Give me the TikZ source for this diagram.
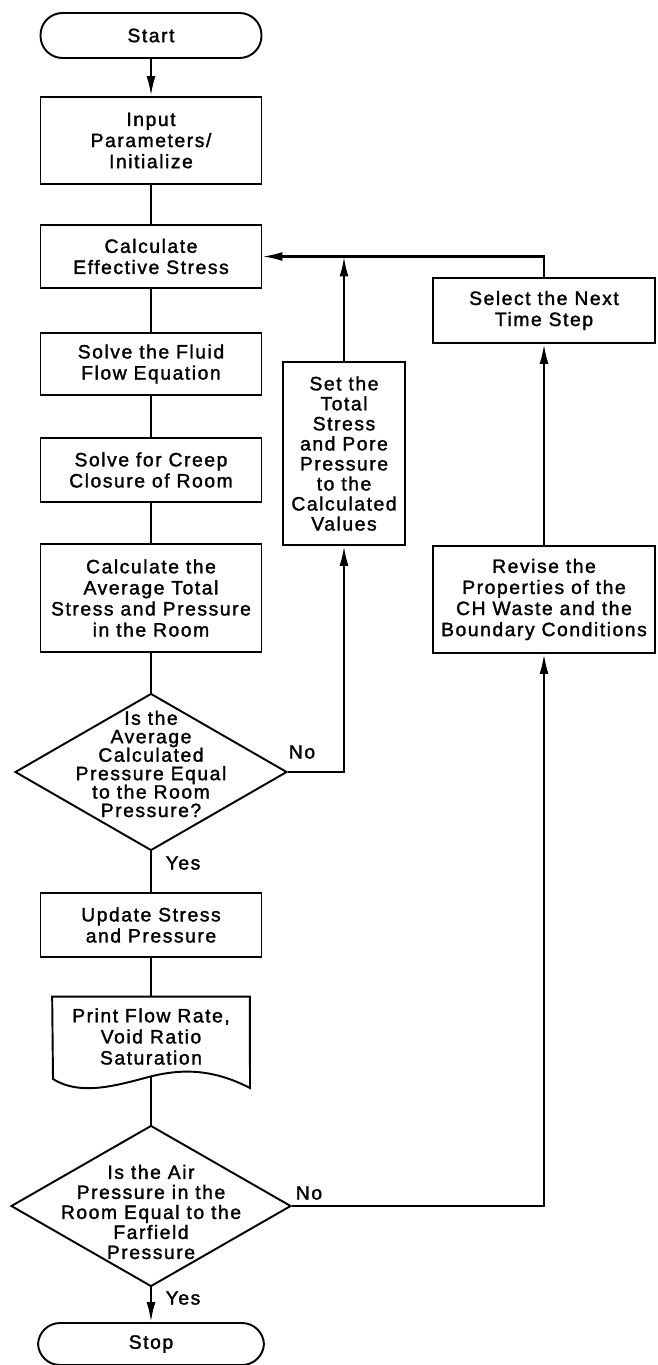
\documentclass[tikz,border=0pt]{standalone}
\usepackage{fontspec}
\setmainfont{Liberation Sans}[LetterSpace=8,FakeBold=1.6]
\usetikzlibrary{shapes.geometric,arrows.meta}

\begin{document}
\begin{tikzpicture}[x=0.02cm, y=-0.02cm,
        font=\fontsize{11}{12}\selectfont,
        every node/.style={align=center, inner sep=0pt},
        box/.style={draw, line width=1.1pt, minimum width=4.42cm},
        termbox/.style={box, rounded corners=0.44cm},
        decide/.style={draw, line width=1.1pt, shape=diamond},
        >={Latex[length=0.4cm,width=0.18cm]},
        flow/.style={line width=1.3pt}]
        \useasboundingbox (0, 0) rectangle (658, 1365);

        % Main column of boxes
        \node[termbox, minimum height=0.9cm] (start) at (151, 35.5) {Start};
        \node[box, minimum height=1.74cm] (input) at (151, 140.5) {Input\\Parameters/\\Initialize};
        \node[box, minimum height=1.26cm] (calceff) at (151, 256.5) {Calculate\\Effective Stress};
        \node[box, minimum height=1.24cm] (fluid) at (151, 364) {Solve the Fluid\\Flow Equation};
        \node[box, minimum height=1.28cm] (creep) at (151, 470) {Solve for Creep\\Closure of Room};
        \node[box, minimum height=2.16cm] (avg) at (151, 598) {Calculate the\\Average Total\\Stress and Pressure\\in the Room};

        % First test
        \node[decide, minimum width=5.44cm, minimum height=3.14cm,
            label={[yshift=0.16cm, font=\fontsize{11}{10.5}\selectfont]center:Is the\\Average\\Calculated\\Pressure Equal\\to the Room\\Pressure?}]
            (test1) at (151, 772) {};

        \node[box, minimum height=1.28cm] (update) at (151, 925) {Update Stress\\and Pressure};

        % Printout, drawn as a document shape
        \node[minimum width=3.94cm, minimum height=1.58cm] (print) at (151, 1036.5) {Print Flow Rate,\\Void Ratio\\Saturation};
        \draw[line width=1.1pt] (print.north west) -- (print.north east) -- (250, 1088)
            .. controls (215, 1070) and (185, 1068) .. (print.south)
            .. controls (115, 1086) and (80, 1096) .. (53, 1079) -- cycle;

        % Second test
        \node[decide, minimum width=5.6cm, minimum height=3.22cm,
            label={[yshift=-0.12cm, font=\fontsize{11}{11.4}\selectfont]center:Is the Air\\Pressure in the\\Room Equal to the\\Farfield\\Pressure}]
            (test2) at (151, 1206) {};

        \node[termbox, minimum width=4.52cm, minimum height=0.84cm] (stop) at (151, 1344) {Stop};

        % Side boxes
        \node[box, minimum width=2.44cm, minimum height=3.66cm, font=\fontsize{11}{11.4}\selectfont] (settot) at (344, 453.5)
            {Set the\\Total\\Stress\\and Pore\\Pressure\\to the\\Calculated\\Values};
        \node[box, minimum width=4.44cm, minimum height=1.3cm] (select) at (544, 310.5) {Select the Next\\Time Step};
        \node[box, minimum width=4.44cm, minimum height=2.14cm] (revise) at (544, 599.5)
            {Revise the\\Properties of the\\CH Waste and the\\Boundary Conditions};

        % Connectors down the main column
        \draw[flow, ->] (start) -- (input);
        \draw[flow] (input) -- (calceff);
        \draw[flow] (calceff) -- (fluid);
        \draw[flow] (fluid) -- (creep);
        \draw[flow] (creep) -- (avg);
        \draw[flow] (avg) -- (test1);
        \draw[flow] (test1.south) -- (update.north);
        \draw[flow] (update) -- (print);
        \draw[flow] (print.south) -- (test2.north);
        \draw[flow, ->] (test2.south) -- (stop.north);

        % Loop back through the side boxes
        \draw[flow, ->] (test1.east) -| (settot.south);
        \draw[flow, ->] (settot.north) -- (settot.north |- calceff.east);
        \draw[flow, ->] (select.north) |- (calceff.east);
        \draw[flow, ->] (revise.north) -- (select.south);
        \draw[flow, ->] (test2.east) -| (revise.south);

        % Branch labels
        \node (yes1) at (183, 863) {Yes};
        \node (no1) at (302, 752) {No};
        \node (no2) at (309, 1193) {No};
        \node (yes2) at (183, 1298) {Yes};
\end{tikzpicture}
\end{document}
